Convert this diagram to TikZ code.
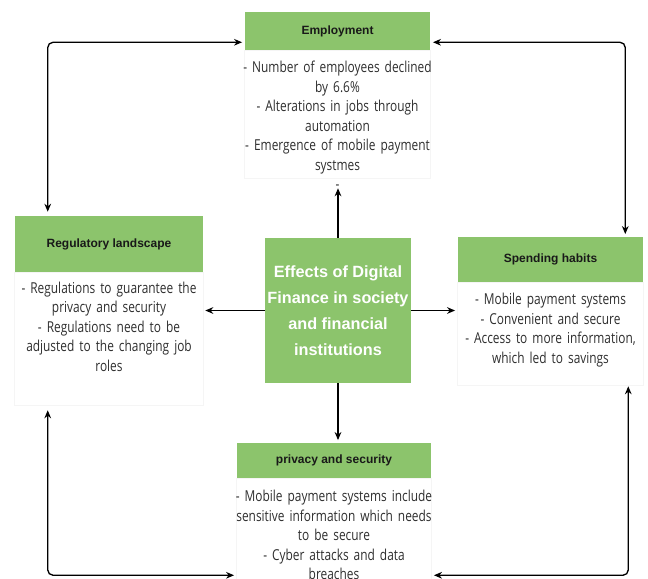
\documentclass[tikz,border=0pt]{standalone}
\usepackage{fontspec}
\usetikzlibrary{positioning,arrows.meta}
\newfontfamily\bodyfont[FakeStretch=0.79]{Open Sans}
\newfontfamily\headfont{Liberation Sans}
\definecolor{fingreen}{HTML}{8CC46C}
\definecolor{bodygray}{HTML}{2E2E2E}

\begin{document}
\begin{tikzpicture}[
	x = 0.75pt, y = -0.75pt,
	>={Stealth[length=6pt,width=5pt]},
	head/.style = {fill=fingreen, text=black!90, inner sep=0pt,
		font=\headfont\fontsize{9}{11}\selectfont\bfseries},
	body/.style = {text width=#1, align=center, inner xsep=0pt, inner ysep=4pt,
		text=bodygray, font=\bodyfont\fontsize{11.3}{14.6}\selectfont},
	centre/.style = {fill=fingreen, text=white, align=center, inner sep=0pt,
		minimum width=109.5pt, minimum height=108.75pt,
		font=\headfont\fontsize{12.2}{19.5}\selectfont\bfseries},
	frame/.style = {draw=black!4, line width=0.6pt},
	link/.style = {<->, line width=1pt, rounded corners=4pt},
	spoke/.style = {->, line width=1pt}
	]
	\clip (0,0) rectangle (648,578);

	% the four topic boxes
	\node[head, minimum width=138.75pt, minimum height=28.5pt] (emphdr) at (337.5,31) {Employment};
	\node[head, minimum width=141pt, minimum height=42pt] (reghdr) at (109,244) {Regulatory landscape};
	\node[head, minimum width=138.75pt, minimum height=33.75pt] (sphdr) at (550.5,259.5) {Spending habits};
	\node[head, minimum width=145.5pt, minimum height=26.25pt] (privhdr) at (334,460.5) {privacy and security};

	\draw[frame] (emphdr.south west) rectangle ([yshift=-96pt]emphdr.south east);
	\draw[frame] (reghdr.south west) rectangle ([yshift=-99.75pt]reghdr.south east);
	\draw[frame] (sphdr.south west) rectangle ([yshift=-77.25pt]sphdr.south east);
	\draw[frame] (privhdr.south west) rectangle ([yshift=-100pt]privhdr.south east);

	\node[body=150pt, below=4pt of emphdr] (emptxt) {- Number of employees declined\\by 6.6\%\\- Alterations in jobs through\\automation\\- Emergence of mobile payment\\systmes\\-};
	\node[body=150pt, below=3pt of reghdr] (regtxt) {- Regulations to guarantee the\\privacy and security\\- Regulations need to be\\adjusted to the changing job\\roles};
	\node[body=150pt, below=4pt of sphdr] (sptxt) {- Mobile payment systems\\- Convenient and secure\\- Access to more information,\\which led to savings};
	\node[body=156pt, below=5pt of privhdr] (privtxt) {- Mobile payment systems include\\sensitive information which needs\\to be secure\\- Cyber attacks and data\\breaches};

	% centre
	\node[centre] (core) at (338,310.5) {Effects of Digital\\Finance in society\\and financial\\institutions};

	\draw[spoke] (core.north) -- ([yshift=-103.5pt]core.north |- emphdr.south);
	\draw[spoke] (core.west) -- ([xshift=1.5pt]core.west -| reghdr.east);
	\draw[spoke] (core.east) -- ([xshift=-2pt]core.east -| sphdr.west);
	\draw[spoke, shorten >=2pt] (core.south) -- (core.south |- privhdr.north);

	% outer loop
	\draw[link] ([xshift=24.75pt,yshift=3pt]reghdr.north west) |- ([xshift=-2pt,yshift=6pt]emphdr.south west);
	\draw[link] ([xshift=2pt,yshift=6pt]emphdr.south east) -| ([xshift=-13.5pt,yshift=2pt]sphdr.north east);
	\draw[link] ([xshift=24.75pt,yshift=-103.5pt]reghdr.south west) |- ([xshift=-2pt,yshift=-72.75pt]privhdr.south west);
	\draw[link] ([xshift=2pt,yshift=-72.75pt]privhdr.south east) -| ([xshift=-11.25pt,yshift=-78pt]sphdr.south east);
\end{tikzpicture}
\end{document}
